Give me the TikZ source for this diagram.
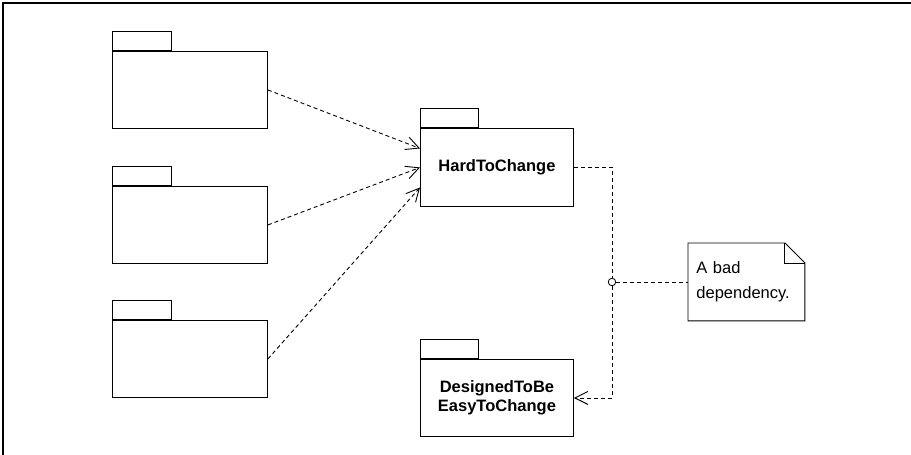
\documentclass[tikz,border=0pt]{standalone}
\usepackage{fontspec}
\setmainfont{Liberation Sans}
\usetikzlibrary{arrows.meta}
\begin{document}
\begin{tikzpicture}[x=1pt,y=-1pt,
  line width=0.9pt,
  pkgbody/.style={draw, minimum width=155pt, minimum height=77pt, inner sep=0pt, anchor=north west,
    align=center, font=\bfseries\fontsize{16.5}{19.5}\selectfont},
  pkgtab/.style={draw, minimum width=59pt, minimum height=19pt, inner sep=0pt, anchor=south west},
  dep/.style={dash pattern=on 4pt off 3pt, -{Straight Barb[length=13pt,width=13pt,line width=0.9pt]}},
  dashline/.style={dash pattern=on 4pt off 3pt},
  notebox/.style={minimum width=116pt, minimum height=77pt, inner xsep=8pt, inner ysep=0pt,
    text width=100pt, align=left, anchor=north west, font=\fontsize{16.5}{25.5}\selectfont}
]
\useasboundingbox (0,0) rectangle (911,455);
\fill[white] (0,0) rectangle (911,455);
% frame
\draw[line width=2.2pt] (3,456) -- (3,3) -- (912,3);

% left packages
\node[pkgbody] (p1) at (112,51) {};
\node[pkgtab] (p1t) at (p1.north west) {};
\node[pkgbody] (p2) at (112,186) {};
\node[pkgtab] (p2t) at (p2.north west) {};
\node[pkgbody] (p3) at (112,320) {};
\node[pkgtab] (p3t) at (p3.north west) {};

% HardToChange
\node[pkgbody, minimum width=153pt, minimum height=78pt] (h) at (420,128) {HardToChange};
\node[pkgtab, minimum width=58pt] (ht) at (h.north west) {};

% DesignedToBe
\node[pkgbody, minimum width=153pt, minimum height=77pt] (d) at (420,359) {DesignedToBe\\EasyToChange};
\node[pkgtab, minimum width=58pt] (dt) at (d.north west) {};

% dependencies
\draw[dep] (p1.east) -- ([yshift=19pt]h.west);
\draw[dep] (p2.east) -- (h.west);
\draw[dep] (p3.east) -- ([yshift=-20pt]h.west);

% bad dependency
\node[draw, circle, minimum size=7.5pt, inner sep=0pt, line width=0.8pt] (c) at (612,282) {};
\draw[dashline] (h.east) -| (c.north);
\draw[dep] (c.south) |- (d.east);

% note
\node[notebox] (n) at (688,243) {A bad\\dependency.};
\draw (n.north west) -- ([xshift=-20pt]n.north east) -- ([yshift=-20pt]n.north east)
      -- (n.south east) -- (n.south west) -- cycle;
\draw ([xshift=-20pt]n.north east) |- ([yshift=-20pt]n.north east);
\draw[dashline] (c.east) -- (n.west |- c.east);
\end{tikzpicture}
\end{document}
